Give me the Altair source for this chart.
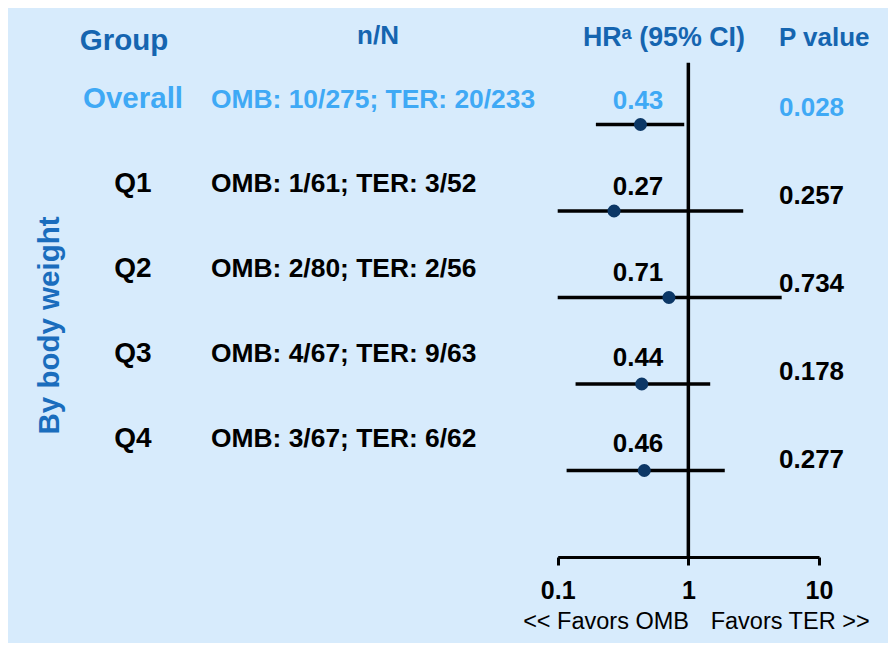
import altair as alt
import pandas as pd

# ---- data ----
groups = ["Overall", "Q1", "Q2", "Q3", "Q4"]
n_over_n = [
    "OMB: 10/275; TER: 20/233",
    "OMB: 1/61; TER: 3/52",
    "OMB: 2/80; TER: 2/56",
    "OMB: 4/67; TER: 9/63",
    "OMB: 3/67; TER: 6/62",
]
hr = [0.43, 0.27, 0.71, 0.44, 0.46]
ci_low = [0.196, 0.10, 0.10, 0.137, 0.117]
ci_high = [0.93, 2.63, 5.18, 1.47, 1.90]
p_values = ["0.028", "0.257", "0.734", "0.178", "0.277"]
x_ticks = [0.1, 1, 10]
headers = ["Group", "n/N", "HR\u1d43 (95% CI)", "P value"]
side_label = "By body weight"
favors_left = "<< Favors OMB"
favors_right = "Favors TER >>"

df = pd.DataFrame({
    "group": groups,
    "nN": n_over_n,
    "hr": hr,
    "lo": ci_low,
    "hi": ci_high,
    "p": p_values,
    "row": list(range(len(groups))),
})
df["hr_label"] = [f"{v:.2f}" for v in hr]

FONT = "Liberation Sans"
HEAD = "#1565b0"
LIGHT = "#3fa9f5"
SIDE = "#1a6dbd"
DOT = "#0c3766"
BG = "#d7ebfc"

xscale = alt.Scale(type="log", domain=[0.1, 10], range=[549.7, 811])
# row positions of the forest lines
yscale = alt.Scale(domain=[-1, 5], range=[30, 549])
# baselines of the text columns (each column has its own row spacing)
y_label_scale = alt.Scale(domain=[0, 4], range=[99.6, 438.8])
y_hr_scale = alt.Scale(domain=[0, 4], range=[101, 444.2])
y_p_scale = alt.Scale(domain=[0, 4], range=[108.2, 460])

xaxis = alt.Axis(
    values=x_ticks, format="~g", title=None, grid=False,
    domainColor="black", domainWidth=3, tickColor="black", tickWidth=3,
    tickSize=8, labelFont=FONT, labelFontSize=25, labelFontWeight="bold",
    labelColor="black", labelPadding=13, labelFlush=False,
)

is_overall = alt.datum.group == "Overall"
color_cond = alt.condition(is_overall, alt.value(LIGHT), alt.value("black"))

base = alt.Chart(df)

refline = alt.Chart(pd.DataFrame({"x": [1], "y": [-0.714], "y2": [5]})).mark_rule(
    color="black", strokeWidth=3.5
).encode(
    x=alt.X("x:Q", scale=xscale, axis=xaxis),
    y=alt.Y("y:Q", scale=yscale, axis=None),
    y2="y2:Q",
)

ci = base.mark_rule(color="black", strokeWidth=3.5).encode(
    x=alt.X("lo:Q", scale=xscale, axis=xaxis),
    x2="hi:Q",
    y=alt.Y("row:Q", scale=yscale, axis=None),
)

pts = base.mark_circle(size=170, opacity=1, color=DOT).encode(
    x=alt.X("hr:Q", scale=xscale, axis=xaxis),
    y=alt.Y("row:Q", scale=yscale, axis=None),
)

def col_text(field, x, align, size, scale, overall_size=None):
    enc = dict(
        x=alt.value(x),
        y=alt.Y("row:Q", scale=scale, axis=None),
        text=f"{field}:N",
        color=color_cond,
    )
    if overall_size is not None:
        enc["size"] = alt.condition(is_overall, alt.value(overall_size), alt.value(size))
    return base.mark_text(
        font=FONT, fontSize=size, fontWeight="bold", align=align,
        baseline="alphabetic",
    ).encode(**enc)

group_text = col_text("group", 125, "center", 28, y_label_scale, overall_size=29.5)
nn_text = col_text("nN", 203, "left", 26.4, y_label_scale)
hr_text = col_text("hr_label", 630, "center", 26, y_hr_scale)
p_text = col_text("p", 771, "left", 26, y_p_scale)

def fixed_text(txt, x, y, align, size, color, weight="bold", angle=0):
    return alt.Chart(pd.DataFrame({"t": [txt]})).mark_text(
        font=FONT, fontSize=size, fontWeight=weight, align=align,
        baseline="alphabetic", color=color, angle=angle,
    ).encode(x=alt.value(x), y=alt.value(y), text="t:N")

head_layers = [
    fixed_text(headers[0], 116, 42, "center", 29.5, HEAD),
    fixed_text(headers[1], 370, 36, "center", 26, HEAD),
    fixed_text(headers[2], 656, 38, "center", 26.8, HEAD),
    fixed_text(headers[3], 771, 38, "left", 26, HEAD),
    fixed_text(side_label, 51, 317.5, "center", 29.5, SIDE, angle=270),
    fixed_text(favors_left, 681, 621, "right", 23.5, "black", weight="normal"),
    fixed_text(favors_right, 702.7, 621, "left", 23.5, "black", weight="normal"),
]

chart = alt.layer(
    refline, ci, pts, group_text, nn_text, hr_text, p_text, *head_layers
).resolve_scale(
    y="independent"
).properties(
    width=880, height=549,
    autosize=alt.AutoSizeParams(type="none"),
    padding={"left": 0, "top": 0, "right": 0, "bottom": 86},
    background=BG,
).configure_view(stroke=None)

chart.save("out.html", embed_options={"renderer": "svg", "actions": False})
